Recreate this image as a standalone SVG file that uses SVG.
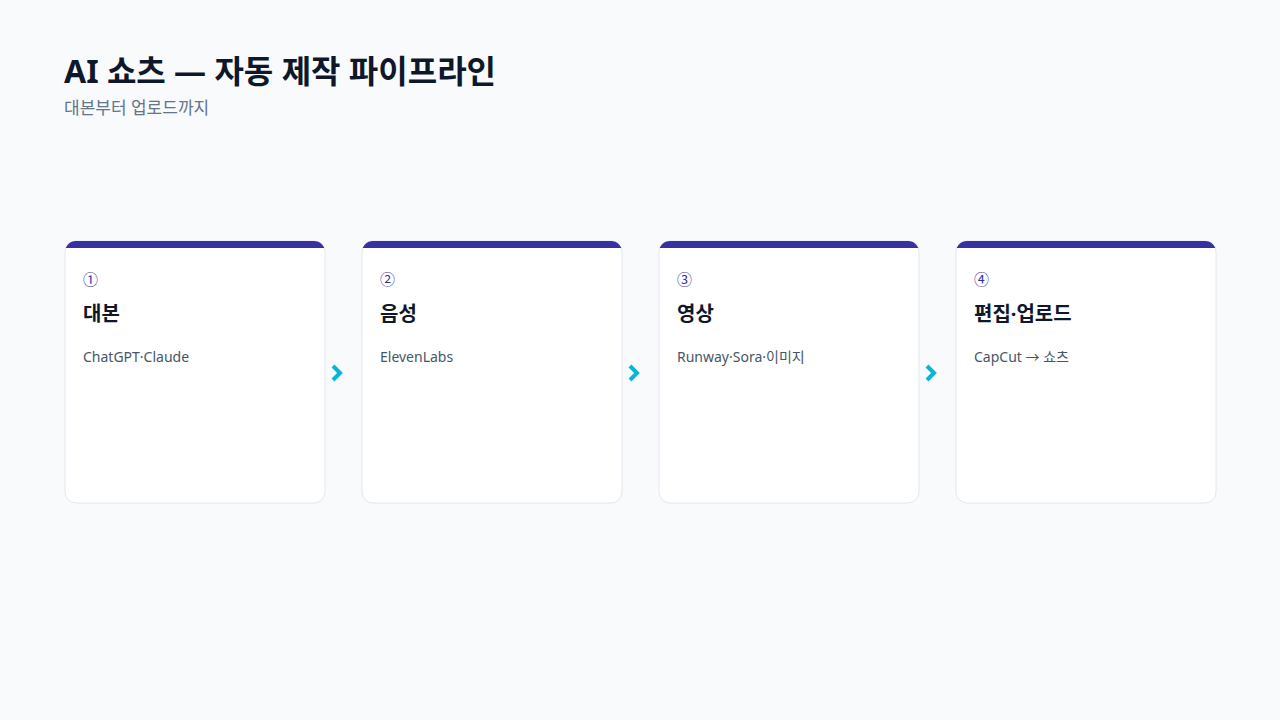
<svg xmlns="http://www.w3.org/2000/svg" width="1280" height="720" viewBox="0 0 1280 720">
<defs>
<style>
.t{font-family:"Noto Sans","Noto Sans CJK KR",sans-serif;}
.title{font-size:32px;font-weight:700;fill:#0f172a;}
.sub{font-size:17px;fill:#64748b;}
.card{fill:#ffffff;stroke:#e2e8f0;stroke-width:1;}
.bar{fill:#3730a3;}
.num{font-size:15px;fill:#3730a3;}
.h{font-size:20px;font-weight:700;fill:#0f172a;}
.d{font-size:14px;fill:#475569;}
.chev{fill:none;stroke:#06b6d4;stroke-width:4;stroke-linecap:butt;stroke-linejoin:miter;}
</style>
<clipPath id="c1"><rect x="65" y="241" width="260" height="262" rx="11"/></clipPath>
<clipPath id="c2"><rect x="362" y="241" width="260" height="262" rx="11"/></clipPath>
<clipPath id="c3"><rect x="659" y="241" width="260" height="262" rx="11"/></clipPath>
<clipPath id="c4"><rect x="956" y="241" width="260" height="262" rx="11"/></clipPath>
</defs>
<rect width="1280" height="720" fill="#f8fafc"/>
<g id="header">
<text class="t title" x="64" y="83">AI 쇼츠 — 자동 제작 파이프라인</text>
<text class="t sub" x="64" y="114">대본부터 업로드까지</text>
</g>
<g id="node1">
<rect class="card" x="65" y="241" width="260" height="262" rx="11"/>
<rect class="bar" x="65" y="241" width="260" height="7" clip-path="url(#c1)"/>
<text class="t num" x="83" y="285">①</text>
<text class="t h" x="83" y="321">대본</text>
<text class="t d" x="83" y="362">ChatGPT·Claude</text>
</g>
<g id="node2">
<rect class="card" x="362" y="241" width="260" height="262" rx="11"/>
<rect class="bar" x="362" y="241" width="260" height="7" clip-path="url(#c2)"/>
<text class="t num" x="380" y="285">②</text>
<text class="t h" x="380" y="321">음성</text>
<text class="t d" x="380" y="362">ElevenLabs</text>
</g>
<g id="node3">
<rect class="card" x="659" y="241" width="260" height="262" rx="11"/>
<rect class="bar" x="659" y="241" width="260" height="7" clip-path="url(#c3)"/>
<text class="t num" x="677" y="285">③</text>
<text class="t h" x="677" y="321">영상</text>
<text class="t d" x="677" y="362">Runway·Sora·이미지</text>
</g>
<g id="node4">
<rect class="card" x="956" y="241" width="260" height="262" rx="11"/>
<rect class="bar" x="956" y="241" width="260" height="7" clip-path="url(#c4)"/>
<text class="t num" x="974" y="285">④</text>
<text class="t h" x="974" y="321">편집·업로드</text>
<text class="t d" x="974" y="362">CapCut → 쇼츠</text>
</g>
<g id="connectors">
<path class="chev" d="M333 366 L340 373 L333 380"/>
<path class="chev" d="M630 366 L637 373 L630 380"/>
<path class="chev" d="M927 366 L934 373 L927 380"/>
</g>
</svg>
